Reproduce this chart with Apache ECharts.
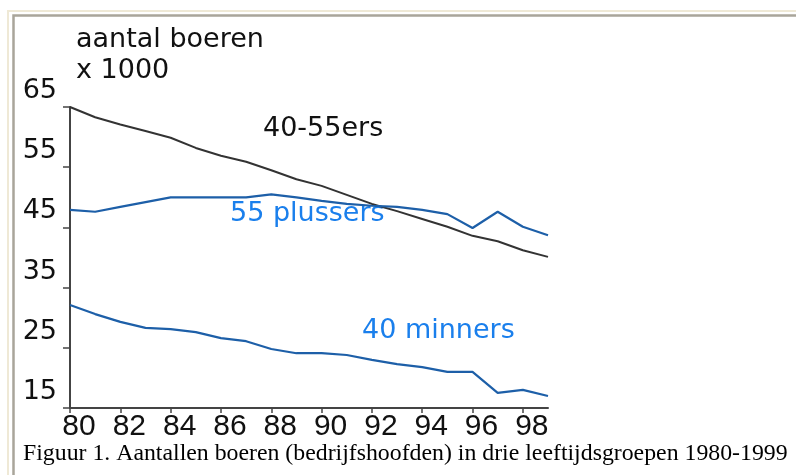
<!DOCTYPE html>
<html>
<head>
<meta charset="utf-8">
<script src="https://cdn.jsdelivr.net/npm/echarts@6/dist/echarts.min.js"></script>
<style>
  html, body { margin: 0; padding: 0; background: #fff; }
  #chart { width: 796px; height: 475px; }
</style>
</head>
<body>
<div id="chart"></div>
<script>
// jaren 1980-1999
const years = ['1980','1981','1982','1983','1984','1985','1986','1987','1988','1989',
               '1990','1991','1992','1993','1994','1995','1996','1997','1998','1999']
const age40to55 = [65.0,63.3,62.1,61.0,59.9,58.2,56.9,55.9,54.5,53.0,
                   51.9,50.4,48.9,47.7,46.4,45.1,43.6,42.7,41.2,40.1]
const age55plus = [47.9,47.6,48.4,49.2,50.0,50.0,50.0,50.0,50.5,50.0,
                   49.4,48.9,48.6,48.4,47.9,47.2,44.9,47.6,45.1,43.7]
const age40min  = [32.1,30.6,29.3,28.3,28.1,27.6,26.6,26.1,24.8,24.1,
                   24.1,23.8,23.0,22.3,21.8,21.0,21.0,17.5,18.0,17.0]
const yTicks = [15, 65, 10]   // min, max, interval

let dom = document.getElementById("chart")
let myChart = echarts.init(dom)
const font = 'DejaVu Sans'
var option = {
    animation: false,
    backgroundColor: '#fff',
    grid: { left: 70, top: 107, right: 248, bottom: 67 },
    xAxis: {
        type: 'category',
        data: years,
        boundaryGap: false,
        axisLine: { lineStyle: { color: '#444', width: 2 } },
        axisTick: { interval: 1, length: 5, lineStyle: { color: '#444', width: 1.5 } },
        splitLine: { show: false },
        axisLabel: {
            interval: 1,
            margin: 4,
            verticalAlign: 'top',
            padding: [0, 0, 0, 18],
            color: '#111',
            fontFamily: 'Liberation Sans',
            fontSize: 30,
            formatter: v => v.slice(2)
        }
    },
    yAxis: {
        type: 'value',
        min: yTicks[0],
        max: yTicks[1],
        interval: yTicks[2],
        axisLine: { show: true, lineStyle: { color: '#444', width: 2 } },
        axisTick: { show: true, length: 7, lineStyle: { color: '#444', width: 1.5 } },
        splitLine: { show: false },
        axisLabel: {
            margin: 13,
            verticalAlign: 'bottom',
            lineHeight: 32,
            color: '#111',
            fontFamily: font,
            fontSize: 27
        }
    },
    series: [
        { name: '40-55ers', type: 'line', data: age40to55, symbol: 'none',
          lineStyle: { color: '#333', width: 2 } },
        { name: '55 plussers', type: 'line', data: age55plus, symbol: 'none',
          lineStyle: { color: '#1d5fa8', width: 2.2 } },
        { name: '40 minners', type: 'line', data: age40min, symbol: 'none',
          lineStyle: { color: '#1d5fa8', width: 2.2 } }
    ],
    graphic: [
        // kader
        { type: 'polyline', shape: { points: [[8, 475], [8, 11], [796, 11]] },
          style: { stroke: '#efe9d6', lineWidth: 2, fill: null } },
        { type: 'polyline', shape: { points: [[13.5, 475], [13.5, 15.5], [796, 15.5]] },
          style: { stroke: '#a9a59a', lineWidth: 2.5, fill: null } },
        { type: 'text', left: 76, top: 24,
          style: { text: 'aantal boeren\nx 1000', font: '27px ' + font, lineHeight: 31, fill: '#111' } },
        { type: 'text', left: 263, top: 115,
          style: { text: '40-55ers', font: '27px ' + font, fill: '#111' } },
        { type: 'text', left: 230, top: 200,
          style: { text: '55 plussers', font: '27px ' + font, fill: '#1a7fec' } },
        { type: 'text', left: 362, top: 317,
          style: { text: '40 minners', font: '27px ' + font, fill: '#1a7fec' } },
        { type: 'text', left: 23, top: 442,
          style: { text: 'Figuur 1. Aantallen boeren (bedrijfshoofden) in drie leeftijdsgroepen 1980-1999',
                   font: '23.8px Liberation Serif', fill: '#000' } }
    ]
}
if (option && typeof option === 'object') {
    myChart.setOption(option);
}
</script>
</body>
</html>
